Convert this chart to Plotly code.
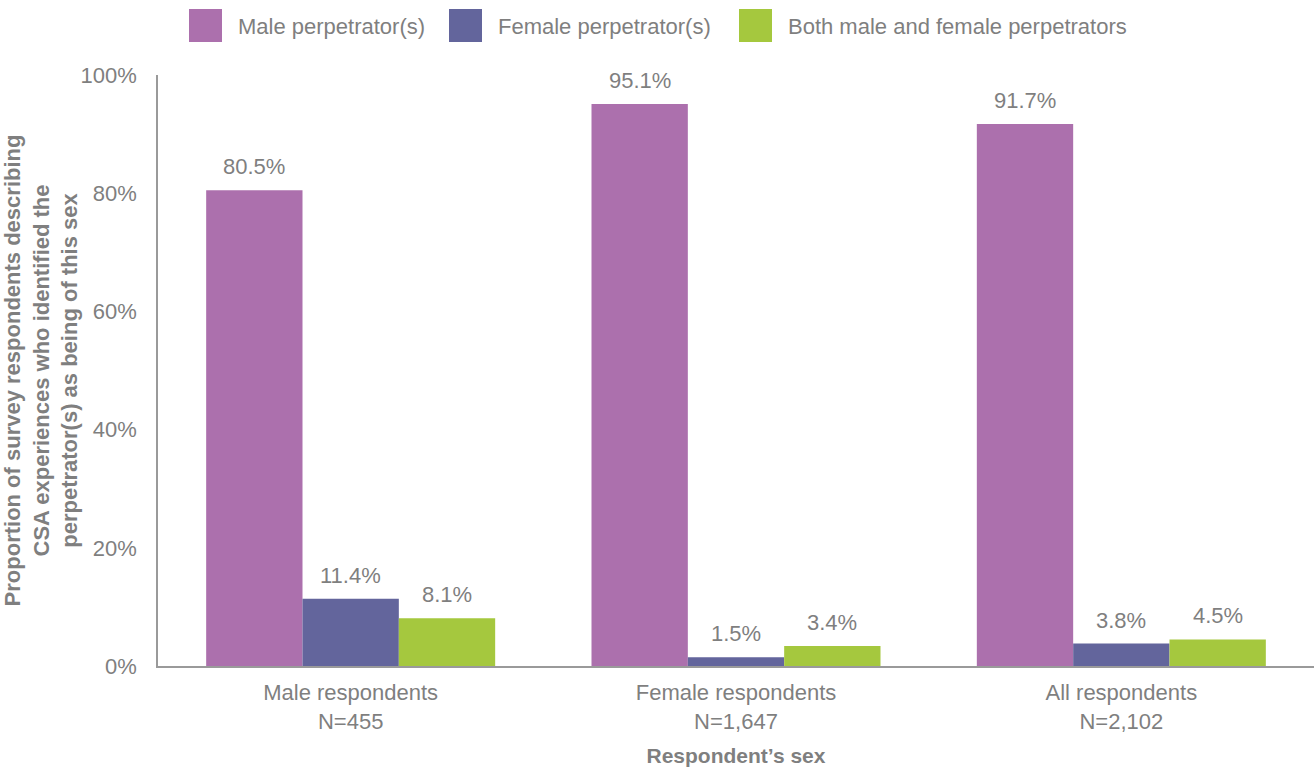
import plotly.graph_objects as go

categories = ["Male respondents<br>N=455", "Female respondents<br>N=1,647", "All respondents<br>N=2,102"]
series_names = ["Male perpetrator(s)", "Female perpetrator(s)", "Both male and female perpetrators"]
male_perp = [80.5, 95.1, 91.7]
female_perp = [11.4, 1.5, 3.8]
both_perp = [8.1, 3.4, 4.5]
colors = ["#AC70AD", "#63659C", "#A5C83E"]
tick_vals = [0, 20, 40, 60, 80, 100]
tick_text = ["0%", "20%", "40%", "60%", "80%", "100%"]

GRAY = "#7f7f7f"
FONT = "Liberation Sans, Arial, Helvetica, sans-serif"
W, H = 1314, 773
ML, MR, MT, MB = 158, 0, 75, 107
PW, PH = W - ML - MR, H - MT - MB
BARGAP = 0.25

def px_x(px):
    return (px - ML) / PW

def px_y(py):
    return (H - MB - py) / PH

series = [male_perp, female_perp, both_perp]
n_series = len(series)
bar_px = PW / len(categories) * (1 - BARGAP) / n_series

fig = go.Figure()
for i, (name, vals, col) in enumerate(zip(series_names, series, colors)):
    fig.add_trace(go.Bar(
        x=categories, y=vals, name=name, marker=dict(color=col, line=dict(width=0)),
        showlegend=False, hoverinfo="x+y",
    ))
    # value labels above bars
    for cat, v in zip(categories, vals):
        fig.add_annotation(x=cat, y=v, xref="x", yref="y", text=f"{v:.1f}%",
                           showarrow=False, yanchor="bottom",
                           xshift=(i - (n_series - 1) / 2) * bar_px, yshift=9,
                           font=dict(size=22, color=GRAY, family=FONT))

# custom legend (large square swatches like the reference)
legend_swatch_px = [189, 449, 739]
for name, col, sx in zip(series_names, colors, legend_swatch_px):
    fig.add_shape(type="rect", xref="paper", yref="paper",
                  x0=px_x(sx), x1=px_x(sx + 33), y0=px_y(42), y1=px_y(9),
                  fillcolor=col, line=dict(width=0))
    fig.add_annotation(xref="paper", yref="paper", x=px_x(sx + 47), y=px_y(26),
                       text=name, showarrow=False, xanchor="left", yanchor="middle",
                       font=dict(size=22, color=GRAY, family=FONT))

fig.update_layout(
    width=W, height=H,
    barmode="group", bargap=BARGAP, bargroupgap=0,
    plot_bgcolor="white", paper_bgcolor="white",
    margin=dict(l=ML, r=MR, t=MT, b=MB, autoexpand=False),
    font=dict(family=FONT, color=GRAY, size=22),
    showlegend=False,
    xaxis=dict(showline=True, linecolor="#9a9a9a", linewidth=1.5, ticks="", automargin=False,
               tickfont=dict(size=22, color=GRAY), ticklabelstandoff=6,
               title=dict(text="<b>Respondent’s sex</b>", font=dict(size=21, color=GRAY), standoff=16)),
    yaxis=dict(range=[0, 100], tickvals=tick_vals, ticktext=tick_text, showgrid=False, zeroline=False,
               showline=True, linecolor="#9a9a9a", linewidth=1.5, ticks="", automargin=True,
               tickfont=dict(size=22, color=GRAY), ticklabelstandoff=15,
               title=dict(text="<b>Proportion of survey respondents describing<br>CSA experiences who identified the<br>perpetrator(s) as being of this sex</b>",
                          font=dict(size=22, color=GRAY), standoff=1)),
)

fig.write_html("out.html", config={"displayModeBar": False},
               post_script="document.body.style.margin='0px';document.body.style.overflow='hidden';")
